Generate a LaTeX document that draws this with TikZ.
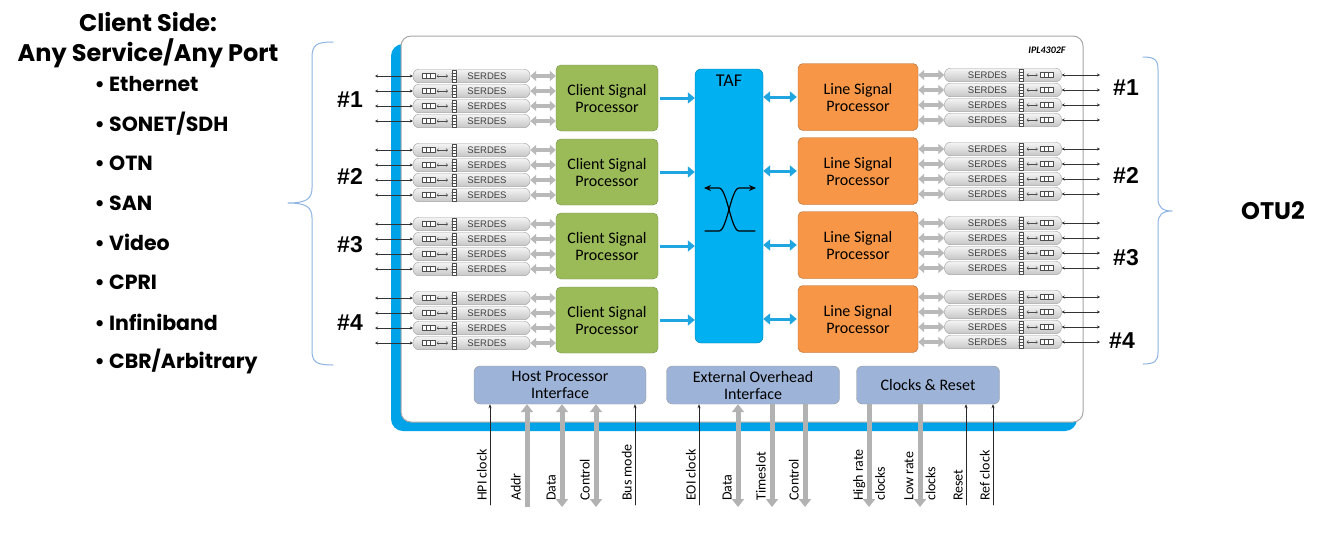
\documentclass[tikz,border=0pt]{standalone}
\usepackage{fontspec}
\setmainfont{Carlito}
\newfontfamily\headfont{Poppins}
\newfontfamily\arialfont{Liberation Sans}
\usetikzlibrary{arrows.meta}
\usetikzlibrary{positioning}

\definecolor{chipblue}{HTML}{00A2E8}
\definecolor{tafblue}{HTML}{00B0F0}
\definecolor{arrowblue}{HTML}{1FA5E0}
\definecolor{cspgreen}{HTML}{9BBB59}
\definecolor{lsporange}{HTML}{F79646}
\definecolor{ifblue}{HTML}{9DB4D8}
\definecolor{bracecol}{HTML}{8DB4E2}

\begin{document}
\begin{tikzpicture}[x=1pt,y=-1pt,
	line cap=round,line join=round,
	boxtext/.style={font=\fontsize{16}{17}\selectfont,align=center},
	csp/.style={boxtext,draw=cspgreen!75!black,fill=cspgreen,rounded corners=5pt,minimum width=102pt,minimum height=66pt},
	lsp/.style={boxtext,draw=lsporange!70!black,fill=lsporange,rounded corners=5pt,minimum width=120pt,minimum height=67pt},
	taf/.style={draw=tafblue!70!black,fill=tafblue,rounded corners=6pt,minimum width=68pt,minimum height=274pt},
	iface/.style={boxtext,draw=gray!80,fill=ifblue,rounded corners=6pt,minimum height=38pt},
	serdes/.style={draw=gray!75,top color=gray!8,bottom color=gray!45,rounded corners=6pt,minimum width=117pt,minimum height=13.5pt,inner sep=0pt,font=\arialfont\fontsize{9.5}{10}\selectfont,text=black!75},
	lane/.style={line width=0.5pt,draw=black!80,{Stealth[length=3pt,width=3pt]}-{Stealth[length=3pt,width=3pt]}},
	gbus/.style={line width=4pt,draw=gray!55,line cap=butt,{Triangle[length=6pt,width=10pt]}-{Triangle[length=6pt,width=10pt]}},
	bbus/.style={line width=3pt,draw=arrowblue,line cap=butt,>={Triangle[length=7pt,width=11pt]}},
	bus/.style={line width=5pt,draw=gray!60,line cap=butt,>={Triangle[length=8pt,width=12pt]}},
	sig/.style={line width=0.6pt,draw=black!85,-{Stealth[length=4pt,width=3pt]}},
	sigtxt/.style={font=\fontsize{14}{22}\selectfont,rotate=90,inner sep=1pt,align=left},
	grp/.style={font=\arialfont\bfseries\fontsize{23}{26}\selectfont},
	svc/.style={font=\headfont\bfseries\fontsize{20.5}{22}\selectfont,anchor=west},
	serdesicon/.pic={
		\draw[black!70,line width=0.4pt,fill=white] (9,-2.5) rectangle (22,2.5);
		\draw[black!70,line width=0.4pt] (13.3,-2.5) -- (13.3,2.5) (17.6,-2.5) -- (17.6,2.5);
		\draw[black!70,line width=0.4pt,{Straight Barb[length=1.5pt]}-{Straight Barb[length=1.5pt]}] (24,0) -- (35,0);
		\draw[black!70,line width=0.4pt,fill=white] (39,-6) rectangle (43,6);
		\foreach \k in {-3,0,3} \draw[black!70,line width=0.3pt] (39,\k) -- (43,\k);
	}]
	
	\useasboundingbox (0,0) rectangle (1324,539);
	\fill[white] (0,0) rectangle (1324,539);
	
	% chip body
	\fill[chipblue,rounded corners=12pt] (391,44) rectangle (1077,431);
	\draw[gray!70,fill=white,line width=1pt,rounded corners=10pt] (401,36) rectangle (1083,422);
	\node[font=\bfseries\itshape\fontsize{10}{11}\selectfont,anchor=east] (chipid) at (1069,50) {IPL4302F};
	
	% processors and TAF
	\foreach \g in {0,...,3}{
		\node[csp] (csp\g) at (607,98+74*\g) {Client Signal\\Processor};
		\node[lsp] (lsp\g) at (858,97+74*\g) {Line Signal\\Processor};
	}
	\node[taf] (taf) at (729,206) {};
	\node[below=3pt of taf.north,font=\fontsize{18}{20}\selectfont] (taftxt) {TAF};
	
	\begin{scope}[shift={(taf.center)},line width=1.2pt,>={Stealth[length=7pt,width=6pt]}]
		\draw[->] (-24,25) -- (-10,25) .. controls (-2,25) and (2,-18) .. (10,-18) -- (27,-18);
		\draw[->] (26,25) -- (10,25) .. controls (2,25) and (-2,-18) .. (-10,-18) -- (-25,-18);
	\end{scope}
	
	% SERDES lanes
	\foreach \g in {0,...,3}
	\foreach \l in {0,...,3}{
		\node[serdes] (ls\g\l) at (471.5,76+74*\g+15*\l) {\hspace*{31pt}SERDES};
		\pic at (ls\g\l.west) {serdesicon};
		\coordinate (lx\g\l) at (375,76+74*\g+15*\l);
		\draw[lane] (lx\g\l) -- (ls\g\l.west);
		\draw[gbus] (ls\g\l.east) -- (ls\g\l.east -| csp\g.west);
		
		\node[serdes] (rs\g\l) at (1003,75+74*\g+15*\l) {SERDES\hspace*{31pt}};
		\pic[xscale=-1] at (rs\g\l.east) {serdesicon};
		\coordinate (rx\g\l) at (1100,75+74*\g+15*\l);
		\draw[lane] (rs\g\l.east) -- (rx\g\l);
		\draw[gbus] (lsp\g.east |- rs\g\l.west) -- (rs\g\l.west);
	}
	
	% processors to TAF
	\foreach \g in {0,...,3}{
		\draw[bbus,->,shorten <=2pt] (csp\g.east) -- (csp\g.east -| taf.west);
		\draw[bbus,<->,shorten >=1pt] (taf.east |- lsp\g.west) -- (lsp\g.west);
	}
	
	% interfaces
	\node[iface,minimum width=172pt] (hpi) at (560,385) {Host Processor\\Interface};
	\node[iface,minimum width=173pt] (eoi) at (753,385) {External Overhead\\Interface};
	\node[iface,minimum width=143pt] (clk) at (928,385) {Clocks \& Reset};
	
	% interface pins
	\coordinate (hpiclk) at (490,505);
	\coordinate (addr) at (527,507);
	\coordinate (hdata) at (562,507);
	\coordinate (hctl) at (596,507);
	\coordinate (busmode) at (635,505);
	\coordinate (eoiclk) at (699,505);
	\coordinate (edata) at (738,507);
	\coordinate (tslot) at (772,507);
	\coordinate (ectl) at (805,507);
	\coordinate (hiclk) at (869,507);
	\coordinate (loclk) at (920,507);
	\coordinate (rst) at (966,505);
	\coordinate (refclk) at (993,505);
	
	\draw[sig] (hpiclk) -- (hpiclk |- hpi.south);
	\draw[bus,->] (addr) -- (addr |- hpi.south);
	\draw[bus,<->] (hdata) -- (hdata |- hpi.south);
	\draw[bus,<->] (hctl) -- (hctl |- hpi.south);
	\draw[sig] (busmode) -- (busmode |- hpi.south);
	\draw[sig] (eoiclk) -- (eoiclk |- eoi.south);
	\draw[bus,<->] (edata) -- (edata |- eoi.south);
	\draw[bus,->] (tslot |- eoi.south) -- (tslot);
	\draw[bus,->] (ectl |- eoi.south) -- (ectl);
	\draw[bus,->] (hiclk |- clk.south) -- (hiclk);
	\draw[bus,->] (loclk |- clk.south) -- (loclk);
	\draw[sig] (rst) -- (rst |- clk.south);
	\draw[sig] (refclk) -- (refclk |- clk.south);
	
	\node[sigtxt,anchor=south west] (hpiclkt) at (488,502) {HPI clock};
	\node[sigtxt,anchor=south west] (addrt) at (522,502) {Addr};
	\node[sigtxt,anchor=south west] (hdatat) at (557,502) {Data};
	\node[sigtxt,anchor=south west] (hctlt) at (591,502) {Control};
	\node[sigtxt,anchor=south west] (busmodet) at (633,502) {Bus mode};
	\node[sigtxt,anchor=south west] (eoiclkt) at (697,502) {EOI clock};
	\node[sigtxt,anchor=south west] (edatat) at (733,502) {Data};
	\node[sigtxt,anchor=south west] (tslott) at (767,502) {Timeslot};
	\node[sigtxt,anchor=south west] (ectlt) at (800,502) {Control};
	\node[sigtxt,anchor=west] (hiclkt) at (869,502) {High rate\\clocks};
	\node[sigtxt,anchor=west] (loclkt) at (920,502) {Low rate\\clocks};
	\node[sigtxt,anchor=south west] (rstt) at (964,502) {Reset};
	\node[sigtxt,anchor=south west] (refclkt) at (991,502) {Ref clock};
	
	% port numbers
	\foreach \t/\ly/\rx/\ry in {1/100/1126/88,2/176/1126/175,3/245/1126/258,4/323/1122/341}{
		\node[grp] (lg\t) at (350,\ly) {\#\t};
		\node[grp] (rg\t) at (\rx,\ry) {\#\t};
	}
	
	% client side
	\node[font=\headfont\bfseries\fontsize{24}{30}\selectfont,align=center] (cside) at (148,40) {Client Side:\\Any Service/Any Port};
	\foreach \s [count=\i from 0] in {Ethernet,SONET/SDH,OTN,SAN,Video,CPRI,Infiniband,CBR/Arbitrary}
		\node[svc] (svc\i) at (91,84+39.7*\i) {\textbullet\ \s};
	\draw[bracecol,line width=1pt] (333,42) .. controls (316,42) and (312,45) .. (312,58) -- (312,188)
		.. controls (312,199) and (306,203) .. (288,203) .. controls (306,203) and (312,207) .. (312,218)
		-- (312,350) .. controls (312,362) and (316,365) .. (333,365);
	
	% line side
	\node[font=\headfont\bfseries\fontsize{24}{26}\selectfont] (otu) at (1273,211) {OTU2};
	\draw[bracecol,line width=1pt] (1143,57) .. controls (1155,57) and (1158,60) .. (1158,70) -- (1158,198)
		.. controls (1158,207) and (1162,211) .. (1172,211) .. controls (1162,211) and (1158,215) .. (1158,224)
		-- (1158,352) .. controls (1158,361) and (1155,364) .. (1143,364);
\end{tikzpicture}
\end{document}
